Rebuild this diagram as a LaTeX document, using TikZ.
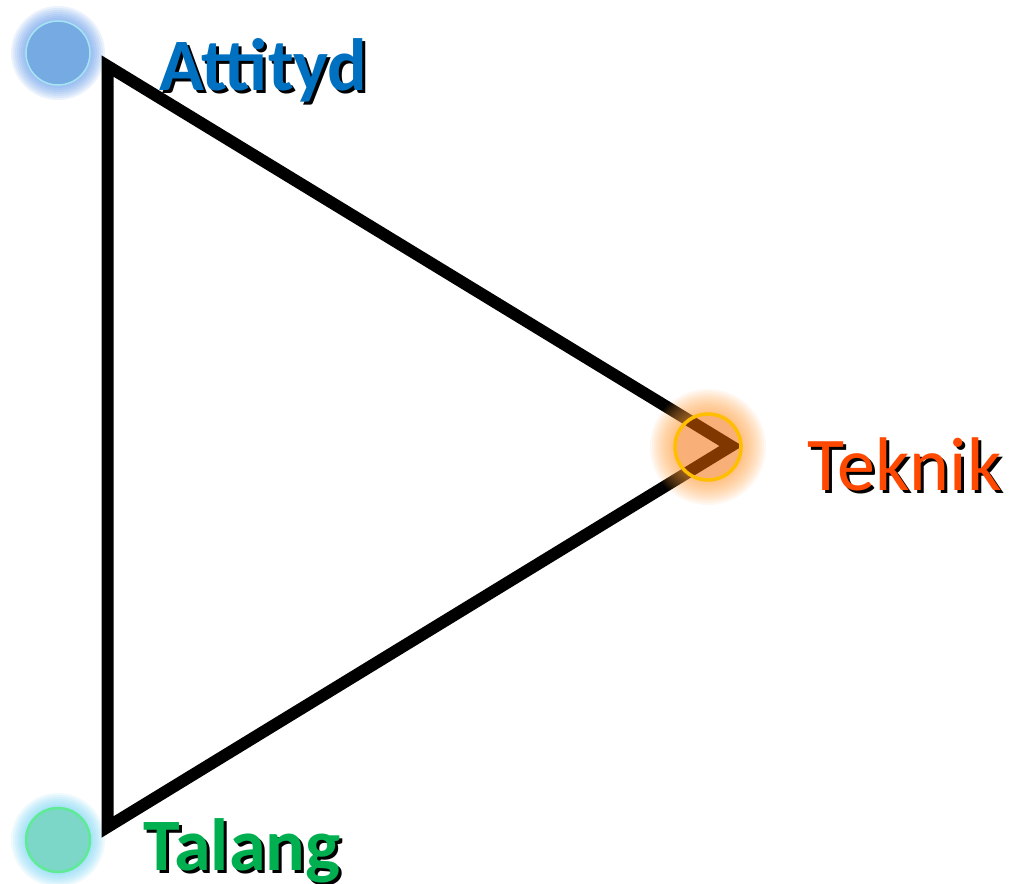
\documentclass[tikz,border=0pt]{standalone}
\usepackage{fontspec}
\setmainfont{Carlito}
\definecolor{attblue}{RGB}{0,112,192}
\definecolor{talgreen}{RGB}{0,176,80}
\definecolor{tekorange}{RGB}{255,72,0}
\definecolor{bluefill}{RGB}{118,170,226}
\definecolor{bluering}{RGB}{165,228,242}
\definecolor{blueglow}{RGB}{90,150,235}
\definecolor{tealfill}{RGB}{125,215,200}
\definecolor{tealring}{RGB}{95,235,150}
\definecolor{tealglow}{RGB}{110,210,245}
\definecolor{orfill}{RGB}{245,105,0}
\definecolor{orring}{RGB}{255,190,0}
\definecolor{orglow}{RGB}{255,160,60}
\tikzset{
  lbl/.style={anchor=base west, inner sep=0pt, font=\fontsize{74}{80}\selectfont},
  tri/.style={line width=12pt, line join=miter, draw=black},
}
\begin{document}
\begin{tikzpicture}[x=1pt,y=-1pt]
\useasboundingbox[fill=white] (0,0) rectangle (1013,884);
% centres
\coordinate (cA) at (58,53);
\coordinate (cT) at (58,840);
\coordinate (cK) at (708,447);
% glows (blue, teal) under the triangle
\foreach \r in {33,35,...,47} {
  \fill[blueglow, opacity=0.11] (cA) circle (\r pt);
  \fill[tealglow, opacity=0.11] (cT) circle (\r pt);
}
% triangle
\coordinate (A) at (107.5,66);
\coordinate (B) at (107.5,827);
\coordinate (C) at (731,446);
\draw[tri] (A) -- (B) -- (C) -- cycle;
% orange glow over the line
\foreach \r in {36,38,...,58} {
  \fill[orglow, opacity=0.07, even odd rule] (cK) circle (\r pt) (cK) circle (33pt);
}
% circles
\node[circle, inner sep=0pt, minimum size=64pt, fill=bluefill, draw=bluering, line width=1.5pt] (att) at (cA) {};
\node[circle, inner sep=0pt, minimum size=64pt, fill=tealfill, draw=tealring, line width=2.5pt] (tal) at (cT) {};
\node[circle, inner sep=0pt, minimum size=66pt, fill=orfill, fill opacity=0.53, draw=orring, draw opacity=1, line width=3.5pt] (tek) at (cK) {};
% labels with shadows
\node[lbl, text=black] (attS) at (162,93) {\bfseries Attityd};
\node[lbl, text=attblue] (attL) at (159,90) {\bfseries Attityd};
\node[lbl, text=black] (talS) at (146,873) {\bfseries Talang};
\node[lbl, text=talgreen] (talL) at (143,870) {\bfseries Talang};
\node[lbl, text=black, font=\fontsize{76}{80}\selectfont] (tekS) at (810,493) {Teknik};
\node[lbl, text=tekorange, font=\fontsize{76}{80}\selectfont] (tekL) at (807,490) {Teknik};
\end{tikzpicture}
\end{document}
